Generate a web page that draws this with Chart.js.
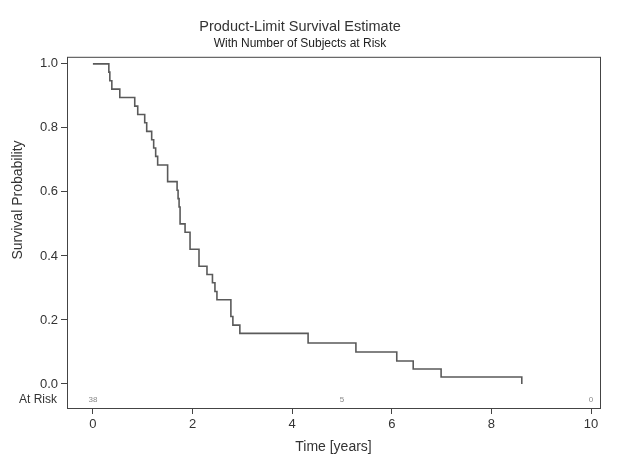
<!DOCTYPE html>
<html>
<head>
<meta charset="utf-8">
<script src="https://cdn.jsdelivr.net/npm/chart.js@4"></script>
<style>
  html, body { margin: 0; padding: 0; background: #fff; }
  #wrap { width: 618px; height: 464px; }
</style>
</head>
<body>
<div id="wrap"><canvas id="km"></canvas></div>
<script>
// Kaplan-Meier estimate (time in years, survival after the event)
const times = [0, 0.32, 0.34, 0.38, 0.54, 0.84, 0.90, 1.04, 1.08, 1.18, 1.22, 1.26, 1.30,
  1.50, 1.69, 1.71, 1.73, 1.75, 1.85, 1.95, 2.13, 2.29, 2.40, 2.45, 2.49, 2.77, 2.81, 2.95,
  4.32, 5.28, 6.10, 6.43, 6.99, 8.61];
const survival = [1.0, 0.974, 0.947, 0.921, 0.895, 0.868, 0.842, 0.816, 0.789, 0.763, 0.737, 0.711, 0.684,
  0.632, 0.605, 0.579, 0.553, 0.5, 0.474, 0.421, 0.368, 0.342, 0.316, 0.289, 0.263, 0.211, 0.184, 0.158,
  0.128, 0.10, 0.072, 0.047, 0.022, 0.0];

const riskTimes = [0, 5, 10];
const riskCounts = [38, 5, 0];

const xTicks = [0, 2, 4, 6, 8, 10];
const yTicks = [0, 0.2, 0.4, 0.6, 0.8, 1.0];

const textCol = '#333';
const font = 'Liberation Sans, Arial, sans-serif';

const kmPoints = times.map((t, i) => ({x: t, y: survival[i]}));

// frame, y title and the at-risk row
const extras = {
  id: 'extras',
  afterDraw(chart) {
    const {ctx, chartArea: a, scales} = chart;
    ctx.save();
    ctx.strokeStyle = '#444';
    ctx.lineWidth = 1;
    ctx.strokeRect(a.left + 0.5, a.top + 0.5, a.right - a.left, a.bottom - a.top);

    ctx.fillStyle = textCol;
    ctx.font = '14px ' + font;
    ctx.textAlign = 'center';
    ctx.textBaseline = 'middle';
    ctx.translate(18, 200);
    ctx.rotate(-Math.PI / 2);
    ctx.fillText('Survival Probability', 0, 0);
    ctx.restore();

    ctx.save();
    const yr = scales.y.bottom - 8;
    ctx.font = '12px ' + font;
    ctx.fillStyle = textCol;
    ctx.textAlign = 'right';
    ctx.textBaseline = 'middle';
    ctx.fillText('At Risk', 57, yr);
    ctx.font = '8px ' + font;
    ctx.fillStyle = '#888';
    ctx.textAlign = 'center';
    riskTimes.forEach((t, i) => {
      ctx.fillText(String(riskCounts[i]), scales.x.getPixelForValue(t), yr);
    });
    ctx.restore();
  }
};

new Chart(document.getElementById('km').getContext('2d'), {
  type: 'line',
  data: {
    datasets: [{
      data: kmPoints,
      stepped: 'before',
      borderColor: '#5a5a5a',
      borderWidth: 1.6,
      pointRadius: 0,
      fill: false
    }]
  },
  options: {
    responsive: true,
    maintainAspectRatio: false,
    animation: false,
    layout: { padding: { left: 0, right: 18, top: 0, bottom: 0 } },
    plugins: {
      legend: { display: false },
      tooltip: { enabled: false },
      title: {
        display: true,
        text: 'Product-Limit Survival Estimate',
        color: textCol,
        font: { family: font, size: 14.5, weight: 'normal' },
        padding: { top: 18, bottom: 1 }
      },
      subtitle: {
        display: true,
        text: 'With Number of Subjects at Risk',
        color: '#222',
        font: { family: font, size: 12, weight: 'normal' },
        padding: { top: 0, bottom: 6 }
      }
    },
    scales: {
      x: {
        type: 'linear',
        min: -0.52,
        max: 10.18,
        afterBuildTicks: (s) => { s.ticks = xTicks.map(v => ({value: v})); },
        afterFit: (s) => { s.height = 56; },
        grid: { drawOnChartArea: false, drawTicks: true, tickLength: 6, color: '#444' },
        border: { display: false },
        ticks: { color: textCol, font: { family: font, size: 13 }, padding: 3, maxRotation: 0 },
        title: {
          display: true,
          text: 'Time [years]',
          color: textCol,
          font: { family: font, size: 14 },
          padding: { top: 0, bottom: 8 }
        }
      },
      y: {
        type: 'linear',
        min: -0.075,
        max: 1.022,
        afterBuildTicks: (s) => { s.ticks = yTicks.map(v => ({value: v})); },
        afterFit: (s) => { s.width = 67; },
        grid: { drawOnChartArea: false, drawTicks: true, tickLength: 6, color: '#444' },
        border: { display: false },
        ticks: {
          color: textCol,
          font: { family: font, size: 13 },
          padding: 3,
          callback: (v) => Number(v).toFixed(1)
        }
      }
    }
  },
  plugins: [extras]
});
</script>
</body>
</html>
